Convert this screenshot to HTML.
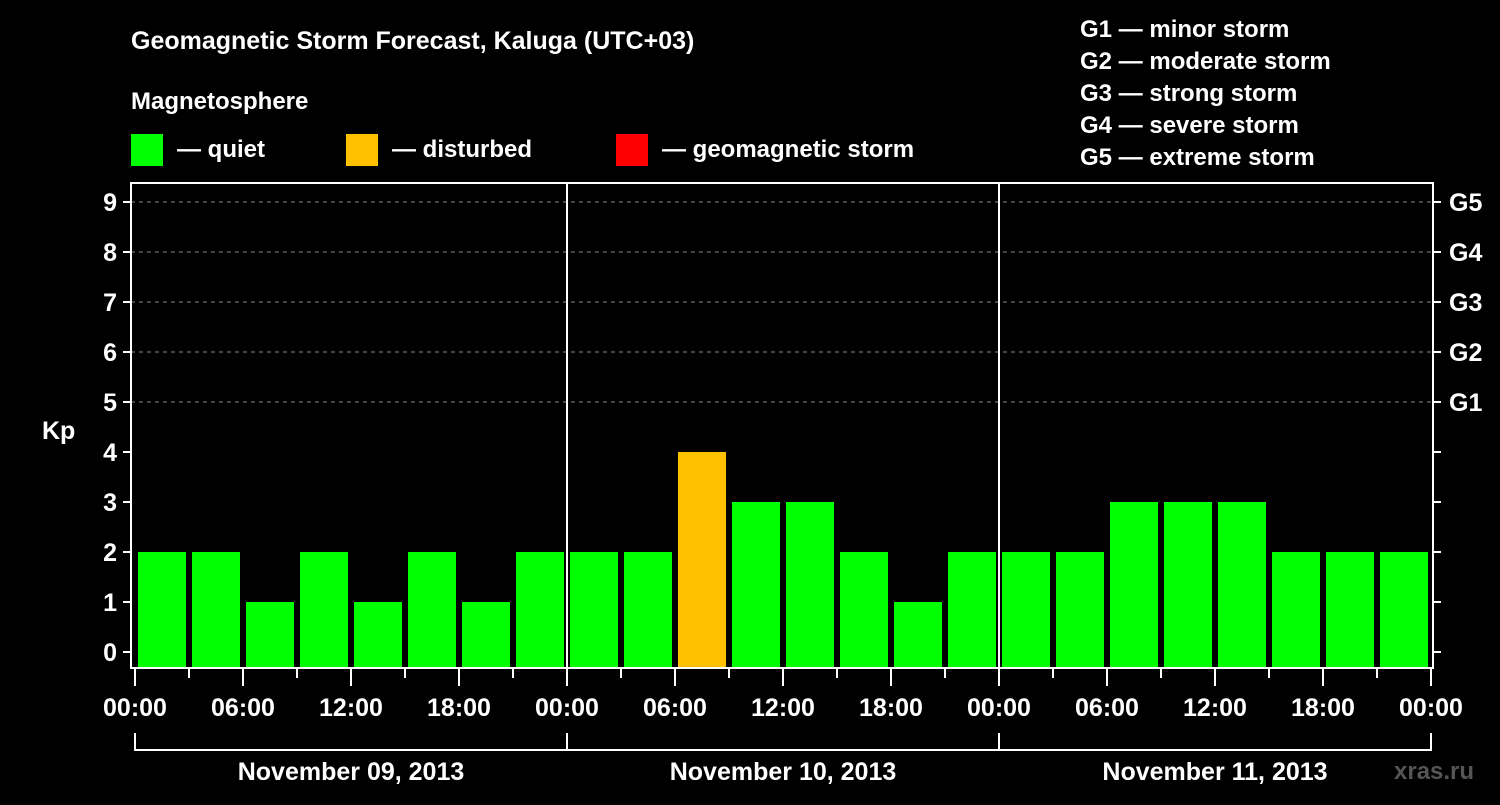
<!DOCTYPE html>
<html><head><meta charset="utf-8"><style>
body{margin:0;background:#000;}
svg text{font-family:"Liberation Sans",sans-serif;font-weight:bold;fill:#fff;}
</style></head><body>
<svg id="c" width="1500" height="800">
<text x="131" y="49" font-size="25">Geomagnetic Storm Forecast, Kaluga (UTC+03)</text>
<text x="131" y="109" font-size="24">Magnetosphere</text>
<rect x="131" y="134" width="32" height="32" fill="#00ff00"/>
<text x="177" y="157" font-size="24">— quiet</text>
<rect x="346" y="134" width="32" height="32" fill="#ffc000"/>
<text x="392" y="157" font-size="24">— disturbed</text>
<rect x="616" y="134" width="32" height="32" fill="#ff0000"/>
<text x="662" y="157" font-size="24">— geomagnetic storm</text>
<g font-size="24">
<text x="1080" y="37">G1 — minor storm</text>
<text x="1080" y="69">G2 — moderate storm</text>
<text x="1080" y="101">G3 — strong storm</text>
<text x="1080" y="133">G4 — severe storm</text>
<text x="1080" y="165">G5 — extreme storm</text>
</g>
<text x="42" y="439" font-size="25">Kp</text>
<text x="1394" y="779" font-size="24" fill="#555" style="fill:#555">xras.ru</text>
<g id="plot"></g>
</svg>
<script>
const kpValues=[2,2,1,2,1,2,1,2, 2,2,4,3,3,2,1,2, 2,2,3,3,3,2,2,2];
const yTicks=[0,1,2,3,4,5,6,7,8,9];
const gLabels=["G1","G2","G3","G4","G5"];
const hourLabels=["00:00","06:00","12:00","18:00"];
const dayLabels=["November 09, 2013","November 10, 2013","November 11, 2013"];
const NS="http://www.w3.org/2000/svg";
const g=document.getElementById('plot');
const y=v=>652-50*v;
const x=h=>135+h*18;
function mk(t,a,p){const e=document.createElementNS(NS,t);for(const k in a)e.setAttribute(k,a[k]);(p||g).appendChild(e);return e;}
// grid
for(let v=5;v<=9;v++){const l=mk('line',{x1:131,x2:1433,y1:y(v),y2:y(v),stroke:'#888','stroke-dasharray':'4,4','stroke-width':1});

}
// bars
kpValues.forEach((v,i)=>{const r=mk('rect',{x:x(i*3)+3,y:y(v),width:48,height:668-y(v),fill:v>=5?'#ff0000':(v>=4?'#ffc000':'#00ff00')});

});
// frame
const f=mk('rect',{x:131,y:183,width:1302,height:485,fill:'none',stroke:'#fff','stroke-width':2});


[1,2].forEach(d=>{const l=mk('line',{x1:x(d*24),x2:x(d*24),y1:183,y2:668,stroke:'#fff','stroke-width':2});

});
// y ticks
yTicks.forEach(v=>{mk('line',{x1:123,x2:131,y1:y(v),y2:y(v),stroke:'#fff','stroke-width':2});
mk('line',{x1:1433,x2:1441,y1:y(v),y2:y(v),stroke:'#fff','stroke-width':2});
const t=mk('text',{x:117,y:y(v)+9,'font-size':25,'text-anchor':'end'});t.textContent=v;

});
gLabels.forEach((s,i)=>{const t=mk('text',{x:1449,y:y(i+5)+9,'font-size':25});t.textContent=s;

});
// x ticks
for(let h=0;h<=72;h+=3){const major=h%6==0;mk('line',{x1:x(h),x2:x(h),y1:669,y2:major?686:678,stroke:'#fff','stroke-width':2});
if(major){const t=mk('text',{x:x(h),y:716,'font-size':25,'text-anchor':'middle'});t.textContent=hourLabels[(h/6)%4];

}}
// day brackets
mk('path',{d:`M${x(0)} 733V750H${x(72)}V733`,fill:'none',stroke:'#fff','stroke-width':2});
[1,2].forEach(d=>mk('line',{x1:x(d*24),x2:x(d*24),y1:733,y2:750,stroke:'#fff','stroke-width':2}));
dayLabels.forEach((s,d)=>{const t=mk('text',{x:x(d*24+12),y:780,'font-size':25,'text-anchor':'middle'});t.textContent=s;

});
</script>
</body></html>
